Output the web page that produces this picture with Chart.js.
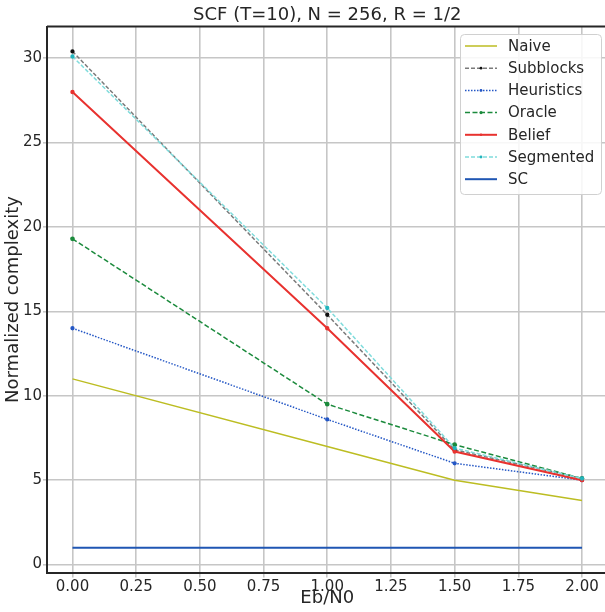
<!DOCTYPE html>
<html>
<head>
<meta charset="utf-8">
<script src="https://cdn.jsdelivr.net/npm/chart.js@4.4.1/dist/chart.umd.min.js"></script>
<style>
html,body{margin:0;padding:0;background:#fff;overflow:hidden}
#wrap{width:612px;height:612px}
</style>
</head>
<body>
<div id="wrap"><canvas id="chart"></canvas></div>
<script>
// Eb/N0 points and complexity per decoder
const ebn0 = [0, 1, 1.5, 2]
const naive = [11.0, 7.0, 5.0, 3.8]
const subblocks = [30.4, 14.8, 6.8, 5.1]
const heuristics = [14.0, 8.6, 6.0, 5.0]
const oracle = [19.3, 9.5, 7.1, 5.1]
const belief = [28.0, 14.0, 6.7, 5.0]
const segmented = [30.1, 15.2, 6.9, 5.1]
const sc = [1, 1, 1, 1]

const xTicks = [0, 0.25, 0.5, 0.75, 1, 1.25, 1.5, 1.75, 2]
const yTicks = [0, 5, 10, 15, 20, 25, 30]

const FONT = "'DejaVu Sans', sans-serif"

function pts(ys){
return ebn0.map((x,i)=>({x:x,y:ys[i]}))
}

function series(label,ys,color,opts){
return Object.assign({
label:label,
data:pts(ys),
borderColor:color,
backgroundColor:color,
pointBackgroundColor:color,
pointBorderColor:color,
borderWidth:1.5,
pointRadius:0,
pointHoverRadius:0,
tension:0,
fill:false
},opts)
}

const datasets=[
series("Naive",naive,"#bcbd22",{}),
series("Subblocks",subblocks,"#7a7a7a",{borderDash:[4,2],pointRadius:1.4,pointBackgroundColor:"#111",pointBorderColor:"#111"}),
series("Heuristics",heuristics,"#2457c5",{borderDash:[1.5,1.5],pointRadius:1.4}),
series("Oracle",oracle,"#1b8a3c",{borderDash:[5,2.5],pointRadius:1.6}),
series("Belief",belief,"#e8322f",{borderWidth:2,pointRadius:1.2}),
series("Segmented",segmented,"#7fdcdc",{borderDash:[4,2],pointRadius:1.4,pointBackgroundColor:"#22b5bd",pointBorderColor:"#22b5bd"}),
series("SC",sc,"#1f56b3",{borderWidth:2})
]
// later series sit on top, like the plotting order
datasets.forEach((d,i)=>{d.order=datasets.length-i})

// top spine and the legend box in the upper right corner
const frameAndLegend={
id:"frameAndLegend",
afterDraw(chart){
const ctx=chart.ctx
const a=chart.chartArea
ctx.save()
ctx.strokeStyle="#262626"
ctx.lineWidth=2
ctx.beginPath()
ctx.moveTo(a.left,a.top)
ctx.lineTo(a.right+2,a.top)
ctx.stroke()

const bx=460,by=34,bw=141,bh=160,r=4
ctx.fillStyle="rgba(255,255,255,0.85)"
ctx.strokeStyle="#d0d0d0"
ctx.lineWidth=1
ctx.beginPath()
ctx.roundRect(bx+0.5,by+0.5,bw,bh,r)
ctx.fill()
ctx.stroke()

ctx.font="15px "+FONT
ctx.textBaseline="middle"
ctx.textAlign="left"
chart.data.datasets.forEach((d,i)=>{
const y=46+i*22.2
ctx.strokeStyle=d.borderColor
ctx.lineWidth=d.borderWidth
ctx.setLineDash(d.borderDash||[])
ctx.beginPath()
ctx.moveTo(465,y)
ctx.lineTo(497,y)
ctx.stroke()
ctx.setLineDash([])
if(d.pointRadius>0){
ctx.fillStyle=d.pointBackgroundColor
ctx.beginPath()
ctx.arc(481,y,d.pointRadius,0,Math.PI*2)
ctx.fill()
}
ctx.fillStyle="#262626"
ctx.fillText(d.label,508,y+1)
})
ctx.restore()
}
}

new Chart(document.getElementById("chart"),{
type:"line",
data:{datasets:datasets},
options:{
responsive:true,
maintainAspectRatio:false,
animation:false,
layout:{padding:{top:0,right:4.5,bottom:0,left:0}},
plugins:{
legend:{display:false},
tooltip:{enabled:false},
title:{
display:true,
fullSize:false,
text:"SCF (T=10), N = 256, R = 1/2",
color:"#262626",
font:{family:FONT,size:18,weight:"normal"},
padding:{top:5,bottom:0}
}
},
scales:{
x:{
type:"linear",
min:-0.1,
max:2.1,
afterBuildTicks(scale){scale.ticks=xTicks.map(v=>({value:v}))},
afterFit(scale){scale.height=39.5},
ticks:{
color:"#262626",
font:{family:FONT,size:15},
padding:1,
maxRotation:0,
autoSkip:false,
callback:v=>v.toFixed(2)
},
grid:{color:"#c6c6c6",lineWidth:1.6,tickLength:5,tickColor:"#c6c6c6"},
border:{display:true,color:"#262626",width:2},
title:{display:true,text:"Eb/N0",color:"#262626",font:{family:FONT,size:18},padding:{top:0,bottom:3}}
},
y:{
type:"linear",
min:-0.47,
max:31.87,
afterBuildTicks(scale){scale.ticks=yTicks.map(v=>({value:v}))},
afterFit(scale){scale.width=47},
ticks:{
color:"#262626",
font:{family:FONT,size:15},
padding:1,
autoSkip:false,
callback:v=>String(v)
},
grid:{color:"#c6c6c6",lineWidth:1.6,tickLength:4,tickColor:"#c6c6c6"},
border:{display:true,color:"#262626",width:2},
title:{display:true,text:"Normalized complexity",color:"#262626",font:{family:FONT,size:18},padding:{top:3,bottom:0}}
}
}
},
plugins:[frameAndLegend]
})
</script>
</body>
</html>
